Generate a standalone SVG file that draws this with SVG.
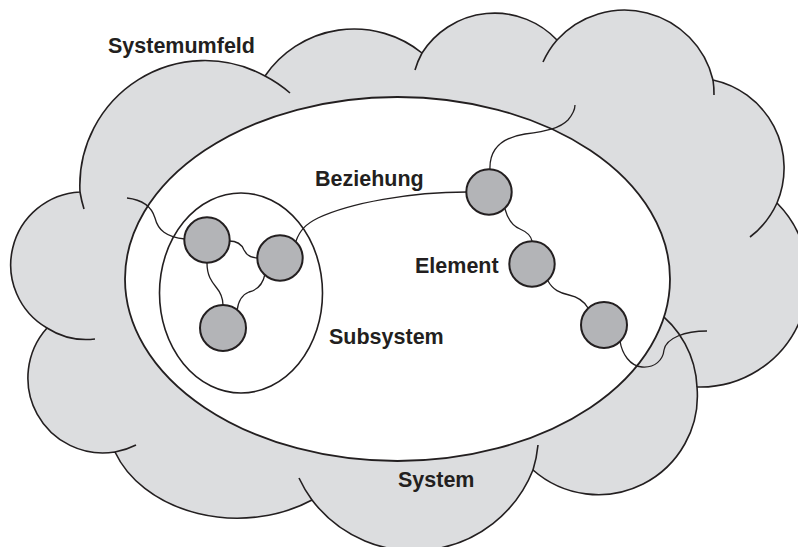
<svg xmlns="http://www.w3.org/2000/svg" width="798" height="547" viewBox="0 0 798 547">
<style>
.cloud{fill:#dcdddf;stroke:#231f20;stroke-width:1.6;stroke-linejoin:round}
.tail{fill:none;stroke:#231f20;stroke-width:1.6;stroke-linecap:butt}
.sys{fill:#ffffff;stroke:#231f20;stroke-width:1.8}
.sub{fill:none;stroke:#231f20;stroke-width:1.6}
.link{fill:none;stroke:#231f20;stroke-width:1.3}
.node{fill:#b3b4b7;stroke:#231f20;stroke-width:2}
.lbl{font-family:"Liberation Sans",Arial,Helvetica,sans-serif;font-weight:bold;font-size:21.5px;fill:#231f20}
</style>
<rect width="798" height="547" fill="#ffffff"/>
<g id="systemumfeld">
<path class="cloud" d="M80,192 A125,125 0 0 1 265,76 A108,108 0 0 1 422,53 A86,86 0 0 1 557,40 A91,91 0 0 1 713,80 A90,90 0 0 1 777,203 A108,108 0 0 1 697,387 A99,99 0 0 1 533,470 A128,128 0 0 1 312,500 A130,100 0 0 1 115,452 A75,75 0 0 1 47,328 A73,73 0 0 1 80,192 Z"/>
<path class="tail" d="M84,209 A125,125 0 0 1 80,192"/>
<path class="tail" d="M265,76 A125,125 0 0 1 290,93"/>
<path class="tail" d="M415,70 A86,86 0 0 1 422,53"/>
<path class="tail" d="M543,62 A91,91 0 0 1 557,40"/>
<path class="tail" d="M713,80 A91,91 0 0 1 714,95"/>
<path class="tail" d="M777,203 A90,90 0 0 1 750,237"/>
<path class="tail" d="M655,310 A99,99 0 0 1 697,387"/>
<path class="tail" d="M538,445 A128,128 0 0 1 533,470"/>
<path class="tail" d="M312,500 A128,128 0 0 1 299,478"/>
<path class="tail" d="M136,445 A75,75 0 0 1 115,452"/>
<path class="tail" d="M95,339 A73,73 0 0 1 47,328"/>
</g>
<g id="system">
<ellipse class="sys" cx="397.5" cy="279" rx="272.5" ry="182"/>
</g>
<g id="subsystem">
<ellipse class="sub" cx="241" cy="293" rx="81.5" ry="100"/>
</g>
<g id="connectors">
<path class="link" d="M127,198 C145,200 152,208 155,218 C158,230 166,237 185,239"/>
<path class="link" d="M229,241 C238,241 242,245 244,250 C247,256 252,258 258,258"/>
<path class="link" d="M207,263 C207,276 212,282 216,287 C221,293 223,298 223,305"/>
<path class="link" d="M265,274 C263,284 257,290 249,292 C241,295 238,302 237,311"/>
<path class="link" d="M296,241 C300,230 306,224 318,218 C350,203 410,192 467,192"/>
<path class="link" d="M490,170 C489,150 500,138 525,134 C548,131 560,128 568,120 C573,114 575,109 575,105"/>
<path class="link" d="M505,209 C508,220 512,226 520,229 C527,232 531,236 532,241"/>
<path class="link" d="M548,281 C553,290 560,293 569,295 C578,297 584,301 588,308"/>
<path class="link" d="M620,341 C622,354 630,366 642,367 C655,368 663,360 664,350 C666,338 685,331 707,331"/>
</g>
<g id="node-s1"><circle class="node" cx="207" cy="240" r="22.7"/></g>
<g id="node-s2"><circle class="node" cx="280" cy="258" r="22.7"/></g>
<g id="node-s3"><circle class="node" cx="223" cy="328" r="23"/></g>
<g id="node-e1"><circle class="node" cx="489" cy="192" r="22.7"/></g>
<g id="node-e2"><circle class="node" cx="532" cy="264" r="22.7"/></g>
<g id="node-e3"><circle class="node" cx="604" cy="325" r="23"/></g>
<g id="labels">
<text class="lbl" x="108" y="53">Systemumfeld</text>
<text class="lbl" x="315" y="186">Beziehung</text>
<text class="lbl" x="415" y="273">Element</text>
<text class="lbl" x="329" y="344">Subsystem</text>
<text class="lbl" x="398" y="487">System</text>
</g>
</svg>
